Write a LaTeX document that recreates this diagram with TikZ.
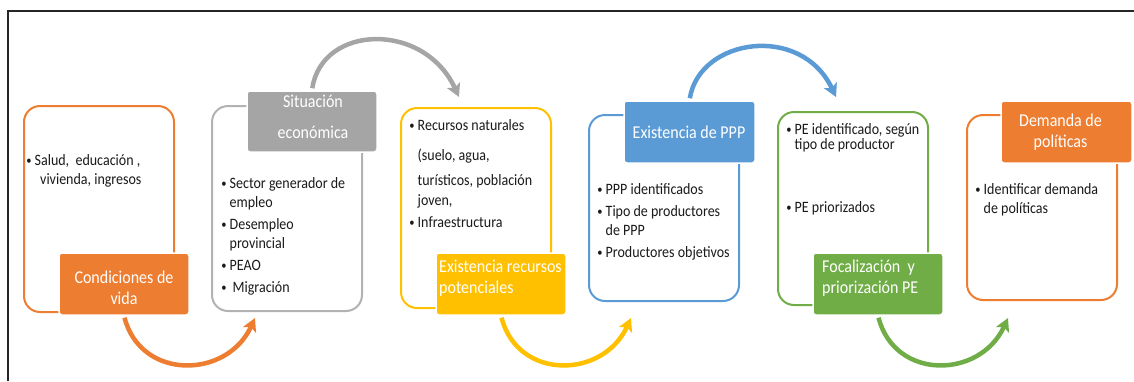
\documentclass[tikz,border=0pt]{standalone}
\usepackage{fontspec}
\setmainfont{Carlito}
\usetikzlibrary{arrows.meta}
\definecolor{cOrange}{HTML}{ED7D31}
\definecolor{cGray}{HTML}{A5A5A5}
\definecolor{cYellow}{HTML}{FFC000}
\definecolor{cBlue}{HTML}{5B9BD5}
\definecolor{cGreen}{HTML}{70AD47}
\definecolor{cText}{HTML}{1A1A1A}
\newcommand\vsc[1]{\scalebox{1}[1.13]{#1}}
\newcommand\bl{\makebox[7.5pt][l]{\hspace*{-0.8pt}\raisebox{1pt}{\scalebox{0.75}{\textbullet}}}}
\newcommand\blw{\makebox[10.5pt][l]{\hspace*{-0.8pt}\raisebox{1pt}{\scalebox{0.75}{\textbullet}}}}
\begin{document}
\begin{tikzpicture}[x=1pt,y=-1pt,
  outline/.style={draw=#1, line width=2pt, rounded corners=16pt, fill=white, inner sep=0pt},
  lblbox/.style={fill=#1, draw=white, line width=1.5pt, rounded corners=3pt, inner sep=0pt},
  txt/.style={anchor=base west, inner sep=0pt, text=cText, font=\fontsize{14}{16}\selectfont},
  lbltxt/.style={inner sep=0pt, text=white, font=\fontsize{16}{19}\selectfont},
  flow/.style={draw=#1, line width=4.5pt, -{Stealth[length=13pt,width=14pt,inset=3pt]}, shorten <=2pt}
]
\useasboundingbox (0,0) rectangle (1134,381);
% frame
\draw[line width=2.2pt, black!85] (8,381) -- (8,11) -- (1134,11);

% outline boxes
\node[outline=cOrange, minimum width=150pt, minimum height=206pt] (b1) at (99,209) {};
\node[outline=cGray!85, minimum width=150pt, minimum height=205pt] (b2) at (287,208.5) {};
\node[outline=cYellow, minimum width=150pt, minimum height=200pt] (b3) at (476,208) {};
\node[outline=cBlue, minimum width=150pt, minimum height=186pt] (b4) at (664,208) {};
\node[outline=cGreen, minimum width=150pt, minimum height=193pt] (b5) at (853,208.5) {};
\node[outline=cOrange, minimum width=150pt, minimum height=185pt] (b6) at (1042,207.5) {};

% label boxes
\node[lblbox=cOrange, minimum width=130pt, minimum height=62pt] (l1) at (124,284) {};
\node[lblbox=cGray, minimum width=130pt, minimum height=61pt] (l2) at (312,121.5) {};
\node[lblbox=cYellow, minimum width=130pt, minimum height=62pt] (l3) at (501,284) {};
\node[lblbox=cBlue, minimum width=131pt, minimum height=62pt] (l4) at (689.5,132) {};
\node[lblbox=cGreen, minimum width=130pt, minimum height=62pt] (l5) at (878,284) {};
\node[lblbox=cOrange, minimum width=131pt, minimum height=62pt] (l6) at (1066.5,132) {};

% label texts
\node[lbltxt, anchor=base] (l1a) at (124,283) {\vsc{Condiciones de}};
\node[lbltxt, anchor=base] (l1b) at (124,304) {\vsc{vida}};
\node[lbltxt, anchor=base] (l2a) at (313,107) {\vsc{Situación}};
\node[lbltxt, anchor=base] (l2b) at (313,138) {\vsc{económica}};
\node[lbltxt, anchor=base west] (l3a) at (439,272) {\vsc{Existencia recursos}};
\node[lbltxt, anchor=base west] (l3b) at (439,293) {\vsc{potenciales}};
\node[lbltxt, anchor=base] (l4a) at (689,138) {\vsc{Existencia de PPP}};
\node[lbltxt, anchor=base west] (l5a) at (822,272) {\vsc{Focalización\ \ y}};
\node[lbltxt, anchor=base west] (l5b) at (822,293) {\vsc{priorización PE}};
\node[lbltxt, anchor=base] (l6a) at (1060.5,126) {\vsc{Demanda de}};
\node[lbltxt, anchor=base] (l6b) at (1060.5,147) {\vsc{políticas}};

% body texts
\node[txt] (t1a) at (27,165.5) {\vsc{\bl Salud,\ \ educación\ ,}};
\node[txt] (t1b) at (40,184.5) {\vsc{vivienda, ingresos}};

\node[txt] (t2a) at (222,188.5) {\vsc{\bl Sector generador de}};
\node[txt] (t2b) at (229.5,207.5) {\vsc{empleo}};
\node[txt] (t2c) at (222,229.5) {\vsc{\bl Desempleo}};
\node[txt] (t2d) at (229.5,248.5) {\vsc{provincial}};
\node[txt] (t2e) at (222,270.5) {\vsc{\bl PEAO}};
\node[txt] (t2f) at (222,292.5) {\vsc{\blw Migración}};

\node[txt] (t3a) at (410,130.5) {\vsc{\bl Recursos naturales}};
\node[txt] (t3b) at (417.5,160.5) {\vsc{(suelo, agua,}};
\node[txt] (t3c) at (417.5,185.5) {\vsc{turísticos, población}};
\node[txt] (t3d) at (417.5,205.5) {\vsc{joven,}};
\node[txt] (t3e) at (410,227.5) {\vsc{\bl Infraestructura}};

\node[txt] (t4a) at (598,194.5) {\vsc{\bl PPP identificados}};
\node[txt] (t4b) at (598,216.5) {\vsc{\bl Tipo de productores}};
\node[txt] (t4c) at (605.5,235.5) {\vsc{de PPP}};
\node[txt] (t4d) at (598,257.5) {\vsc{\bl Productores objetivos}};

\node[txt] (t5a) at (787,134.5) {\vsc{\bl PE identificado, según}};
\node[txt] (t5b) at (794.5,149.5) {\vsc{tipo de productor}};
\node[txt] (t5c) at (787,212.5) {\vsc{\bl PE priorizados}};

\node[txt] (t6a) at (976,194.5) {\vsc{\bl Identificar demanda}};
\node[txt] (t6b) at (983.5,213.5) {\vsc{de políticas}};

% connectors
\draw[flow=cOrange] (l1.south) .. controls +(17,65) and +(-28,61) .. ([shift={(44,6)}]b2.south west);
\draw[flow=cGray] (l2.north) .. controls +(10,-66) and +(-35,-76) .. ([shift={(59,-10)}]b3.north west);
\draw[flow=cYellow] (l3.south) .. controls +(17,65) and +(-28,61) .. ([shift={(43,16)}]b4.south west);
\draw[flow=cBlue] (l4.north) .. controls +(10,-62) and +(-35,-74) .. ([shift={(59,-14)}]b5.north west);
\draw[flow=cGreen] (l5.south) .. controls +(17,65) and +(-28,61) .. ([shift={(42,17)}]b6.south west);
\end{tikzpicture}
\end{document}
